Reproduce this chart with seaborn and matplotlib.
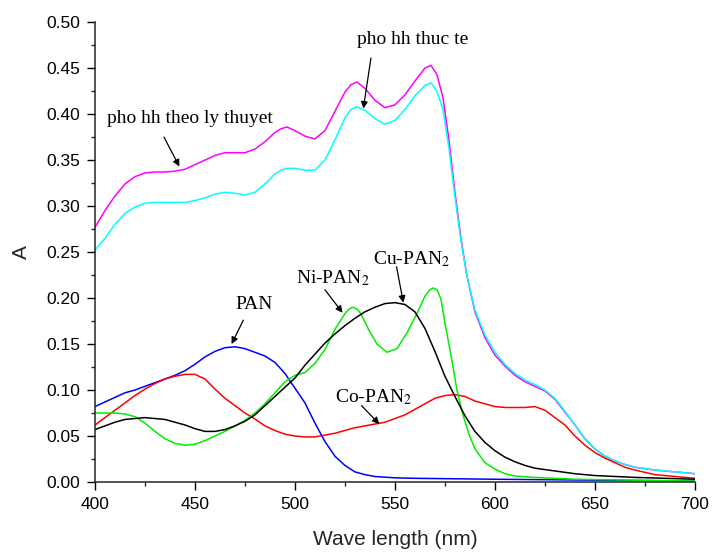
import matplotlib
matplotlib.use("Agg")
import matplotlib.pyplot as plt
import seaborn as sns
import pandas as pd

# Absorption spectra (A vs wavelength, nm)
wl_theory = [400, 405, 410, 415, 420, 425, 430, 435, 440, 445, 450, 455, 460, 465, 470, 475,
             480, 485, 490, 493, 496, 500, 505, 510, 515, 520, 525, 528, 531, 535, 540, 545,
             550, 555, 560, 565, 568, 571, 574, 577, 580, 583, 586, 590, 595, 600, 605, 610,
             615, 620, 625, 630, 635, 640, 645, 650, 655, 660, 665, 670, 680, 690, 700]
a_theory = [0.277, 0.295, 0.311, 0.324, 0.332, 0.336, 0.337, 0.337, 0.338, 0.340, 0.345, 0.350,
            0.355, 0.358, 0.358, 0.358, 0.362, 0.370, 0.380, 0.384, 0.386, 0.382, 0.376, 0.373,
            0.382, 0.403, 0.424, 0.432, 0.435, 0.428, 0.415, 0.407, 0.410, 0.421, 0.436, 0.450,
            0.453, 0.443, 0.418, 0.372, 0.315, 0.265, 0.224, 0.185, 0.157, 0.138, 0.126, 0.116,
            0.109, 0.104, 0.099, 0.090, 0.076, 0.062, 0.047, 0.036, 0.028, 0.023, 0.019, 0.016,
            0.013, 0.011, 0.009]

wl_real = wl_theory
a_real = [0.252, 0.265, 0.280, 0.292, 0.299, 0.303, 0.304, 0.304, 0.304, 0.304, 0.306, 0.309,
          0.313, 0.315, 0.314, 0.312, 0.315, 0.324, 0.335, 0.339, 0.341, 0.341, 0.339, 0.339,
          0.350, 0.372, 0.396, 0.405, 0.408, 0.404, 0.395, 0.389, 0.393, 0.405, 0.420, 0.431,
          0.434, 0.425, 0.405, 0.363, 0.310, 0.262, 0.224, 0.187, 0.160, 0.141, 0.128, 0.118,
          0.111, 0.106, 0.100, 0.091, 0.077, 0.062, 0.047, 0.036, 0.028, 0.023, 0.019, 0.016,
          0.013, 0.011, 0.009]

wl_pan = [400, 405, 410, 415, 420, 425, 430, 435, 440, 445, 450, 455, 460, 465, 470, 475, 480,
          485, 490, 495, 500, 505, 510, 515, 520, 525, 530, 535, 540, 550, 560, 580, 600, 650, 700]
a_pan = [0.082, 0.087, 0.092, 0.097, 0.100, 0.104, 0.108, 0.112, 0.116, 0.121, 0.128, 0.136,
         0.142, 0.146, 0.147, 0.145, 0.141, 0.137, 0.130, 0.118, 0.102, 0.086, 0.064, 0.044,
         0.028, 0.018, 0.011, 0.008, 0.006, 0.0045, 0.004, 0.0035, 0.003, 0.002, 0.001]

wl_co = [400, 405, 410, 415, 420, 425, 430, 435, 440, 445, 450, 455, 460, 465, 470, 475, 480,
         485, 490, 495, 500, 505, 510, 515, 520, 525, 530, 535, 540, 545, 550, 555, 560, 565,
         570, 575, 580, 585, 590, 595, 600, 605, 610, 615, 620, 625, 630, 635, 640, 645, 650,
         655, 660, 665, 670, 680, 690, 700]
a_co = [0.062, 0.070, 0.078, 0.086, 0.094, 0.101, 0.107, 0.112, 0.115, 0.117, 0.117, 0.112,
        0.101, 0.091, 0.083, 0.075, 0.0685, 0.061, 0.056, 0.052, 0.050, 0.049, 0.049, 0.051,
        0.053, 0.056, 0.059, 0.061, 0.063, 0.065, 0.069, 0.073, 0.079, 0.085, 0.091, 0.094,
        0.095, 0.093, 0.088, 0.085, 0.082, 0.081, 0.081, 0.081, 0.082, 0.078, 0.070, 0.062,
        0.050, 0.040, 0.032, 0.026, 0.021, 0.016, 0.013, 0.008, 0.006, 0.004]

wl_ni = [400, 405, 410, 415, 420, 425, 430, 435, 440, 445, 450, 455, 460, 465, 470, 475, 480,
         485, 490, 495, 500, 505, 510, 515, 520, 525, 527, 529, 531, 533, 537, 541, 546, 551,
         556, 561, 565, 567, 569, 571, 573, 575, 578, 581, 584, 587, 590, 595, 600, 605, 610,
         620, 640, 670, 700]
a_ni = [0.075, 0.075, 0.075, 0.074, 0.071, 0.064, 0.055, 0.047, 0.042, 0.040, 0.041, 0.045,
        0.050, 0.055, 0.061, 0.067, 0.075, 0.085, 0.097, 0.109, 0.116, 0.119, 0.129, 0.144,
        0.166, 0.183, 0.188, 0.190, 0.188, 0.183, 0.165, 0.150, 0.141, 0.145, 0.162, 0.183,
        0.202, 0.208, 0.211, 0.209, 0.199, 0.173, 0.138, 0.100, 0.073, 0.052, 0.036, 0.021,
        0.014, 0.009, 0.0065, 0.005, 0.003, 0.002, 0.001]

wl_cu = [400, 405, 410, 415, 420, 425, 430, 435, 440, 445, 450, 455, 460, 465, 470, 475, 480,
         485, 490, 495, 500, 505, 510, 515, 520, 525, 530, 535, 540, 545, 550, 555, 560, 565,
         570, 575, 580, 585, 590, 595, 600, 605, 610, 615, 620, 630, 640, 650, 670, 700]
a_cu = [0.057, 0.061, 0.065, 0.068, 0.069, 0.070, 0.069, 0.068, 0.065, 0.062, 0.058, 0.055,
        0.055, 0.057, 0.061, 0.066, 0.073, 0.083, 0.093, 0.103, 0.113, 0.127, 0.139, 0.151,
        0.161, 0.170, 0.178, 0.185, 0.190, 0.194, 0.195, 0.193, 0.185, 0.167, 0.142, 0.115,
        0.093, 0.072, 0.055, 0.043, 0.034, 0.027, 0.022, 0.018, 0.015, 0.012, 0.009, 0.007,
        0.005, 0.003]

series = [
    (wl_theory, a_theory, "#ff00ff"),
    (wl_real, a_real, "#00ffff"),
    (wl_pan, a_pan, "#0000ff"),
    (wl_co, a_co, "#ff0000"),
    (wl_ni, a_ni, "#00ee00"),
    (wl_cu, a_cu, "#000000"),
]

sns.set_style("ticks")
plt.rcParams["font.family"] = ["Liberation Sans", "DejaVu Sans"]
plt.rcParams["mathtext.fontset"] = "stix"

fig = plt.figure(figsize=(7.12, 5.53), dpi=100)
ax = fig.add_axes([0.1334, 0.1284, 0.8426, 0.8316])

for wl, a, col in series:
    df = pd.DataFrame({"wl": wl, "A": a})
    sns.lineplot(data=df, x="wl", y="A", color=col, linewidth=1.1, ax=ax,
                 sort=False, estimator=None)

ax.set_xlim(400, 700)
ax.set_ylim(0, 0.5)
ax.set_xticks(range(400, 701, 50))
ax.set_xticks(range(425, 700, 50), minor=True)
yt = [i * 0.05 for i in range(11)]
ax.set_yticks(yt)
ax.set_yticklabels([f"{v:.2f}" for v in yt])
ax.set_yticks([0.025 + i * 0.05 for i in range(10)], minor=True)

sns.despine(ax=ax)
for s in ("left", "bottom"):
    ax.spines[s].set_linewidth(1.1)
ax.tick_params(which="major", length=5.5, width=1.0, labelsize=12.5, pad=5, colors="black")
ax.tick_params(which="minor", length=3, width=1.0)

ax.set_xlabel("Wave length (nm)", fontsize=15, labelpad=13)
ax.set_ylabel("A", fontsize=15, labelpad=11)

serif = dict(family=["Liberation Serif", "DejaVu Serif"], fontsize=14, color="black")
arrow = dict(arrowstyle="-|>", color="black", lw=0.9, mutation_scale=10,
             shrinkA=0, shrinkB=0)

notes = [
    ("pho hh theo ly thuyet", (406.2, 0.390), (434.5, 0.375), (442.2, 0.343)),
    ("pho hh thuc te", (531.0, 0.476), (538.0, 0.461), (534.2, 0.406)),
    ("PAN", (470.0, 0.188), (474.2, 0.176), (468.3, 0.150)),
    ("Ni-PAN$_2$", (500.5, 0.216), (515.0, 0.209), (523.8, 0.184)),
    ("Cu-PAN$_2$", (538.8, 0.237), (550.8, 0.234), (554.2, 0.195)),
    ("Co-PAN$_2$", (520.0, 0.087), (533.3, 0.083), (542.2, 0.063)),
]
for label, pos, start, end in notes:
    ax.text(pos[0], pos[1], label, ha="left", va="baseline", **serif)
    ax.annotate("", xy=end, xytext=start, arrowprops=arrow)

fig.savefig("out.png", dpi=100)
